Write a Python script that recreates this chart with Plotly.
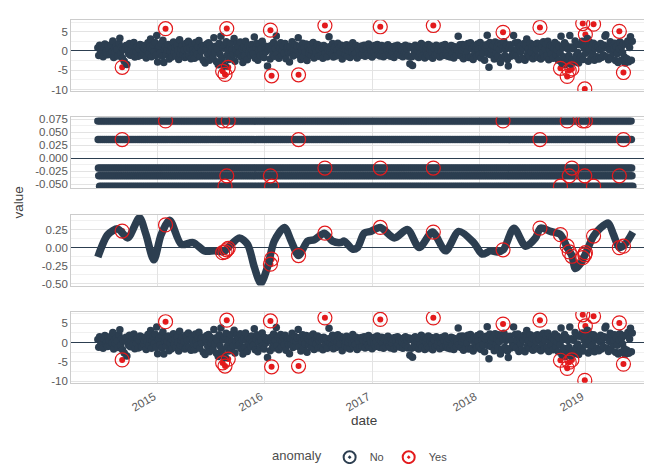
import pandas as pd
import plotly.graph_objects as go

DARK = "#2c3e50"
RED = "#e31a1c"
FONT = "Liberation Sans, Arial, sans-serif"

# ---------------- data ----------------
noise_start = "2014-06-10"   # one value every 3 days
observed_vals = [
    0.8, -1.2, 1.5, 0.3, -0.6, 1.1, -1.5, 0.9, 1.8, -0.4, 0.2, -1.0, 1.3, 0.5, -0.9, 1.6, -0.2, 2.6, -1.7, 0.7, -0.3, 1.2, 0.4, -1.3, 2.0, 3.3, -0.8, 1.0, -1.9, 0.4, -2.7, 0.6, 1.4, -3.5, 0.1, -0.7, 1.9, -1.1, 0.3, 1.5, -0.5, 2.2, -1.6, 0.8, -0.2, 1.1, -1.4, 0.6, 1.7, -0.9,
    -1.1, 1.4, -0.4, 0.6, 1.3, -1.8, 0.2, 2.1, -0.7, 0.9, 3.1, -1.5, 0.5, 1.6, -0.3, 2.2, -1.2, 4.0, -2.9, 0.8, 1.2, -0.6, 1.9, -1.4, 2.8, -3.0, 0.4, 1.1, -0.9, 0.3, 1.7, -2.1, -0.1, 1.0, -1.6, 0.7, 2.3, -0.5, 0.9, -1.3, 1.5, 0.1, -2.2, 2.9, -0.8, 0.6, 1.4, -1.0, 0.3, -1.7,
    1.9, -1.3, 0.5, 2.5, -1.2, 0.7, -2.0, 1.6, 0.3, -0.6, -1.9, 2.2, 0.2, -0.8, 1.1, 2.7, -1.5, 0.9, -0.1, 1.4, -2.5, 1.3, -3.1, 0.6, 1.8, -1.0, 2.1, -2.4, 1.4, -0.2, 0.8, -1.7, 3.4, -0.4, 1.2, -2.8, 0.5, -3.6, 2.0, -0.9, 3.8, -1.8, -3.3, 0.7, 1.5, -3.9, 2.4, -1.1, 0.3, -2.2,
    0.8, 2.0, -1.5, 0.4, -0.9, 3.2, -2.7, 0.3, 1.8, -0.9, 1.1, -0.4, 2.3, -1.6, 0.6, -3.0, 1.0, -1.2, 2.5, 0.5, -2.3, 1.4, -0.4, 0.9, -1.1, 1.7, 0.2, -0.7, 3.6, -1.9, 0.9, 2.0, -2.4, 0.1, 1.7, -1.2, 0.6, 2.5, -0.8, -1.7, 1.3, -0.2, 0.8, -3.9, 0.6, 1.2, -2.1, 0.4, 1.5, -1.0,
    2.2, -1.4, 0.6, 3.9, -0.8, 1.5, -1.9, 0.7, 2.1, -1.1, 0.2, 1.3, -0.6, 1.9, -2.0, 0.8, 1.1, -0.5, -2.9, 1.1, -0.5, 2.4, -1.3, 0.6, 1.6, -0.9, 0.3, 1.2, 3.4, -1.1, 1.3, -2.2, 0.4, 2.0, -1.6, 0.9, -0.3, 1.8, -2.5, 1.0, -0.7, 0.5, 1.7, -1.2, 0.2, 2.2, -1.8, 0.7, -0.4, 1.3,
    1.7, -1.4, 0.5, 1.3, -1.2, 0.8, -1.9, 1.4, 0.6, -0.6, 1.0, -1.5, 0.3, 3.7, -0.2, 1.2, -0.9, 1.9, -1.6, 0.6, 1.1, -1.3, 0.2, 2.0, -1.0, 0.9, -0.4, 1.5, -2.1, 0.7, 1.2, -0.8, 0.4, 1.6, -1.4, 0.1, 0.9, -1.7, 1.3, -0.3, 2.1, -1.1, 0.5, -0.6, 1.4, -1.8, 0.8, 0.2, -1.2, 1.1,
    1.3, -1.0, 0.6, 1.5, -1.4, 0.4, 1.1, -0.7, 1.8, -1.2, 0.8, 0.1, -1.6, 1.2, -0.5, 1.4, -1.0, 0.3, 1.7, -0.9, 1.0, -1.3, 0.5, 1.4, -0.3, -1.5, 0.9, 1.2, -1.1, 0.2, 1.6, -0.8, 0.5, -1.4, 1.1, -0.2, 0.8, -1.7, 1.3, 0.4, -0.9, 1.5, -0.6, 0.7, -1.2, 1.0, 0.1, -1.5, 1.2, -0.4,
    1.5, -0.8, 0.6, -1.4, 1.2, -3.3, 0.9, -1.5, -3.8, 1.1, -0.6, 1.5, -1.3, 0.4, 1.2, -1.7, 0.9, -0.6, 1.9, -1.3, 0.7, 1.4, -1.8, 0.3, 1.1, -1.0, 1.7, -1.4, 0.5, 1.3, -0.4, -1.9, 1.0, 0.6, -1.1, 1.5, -0.7, 0.3, 1.2, -1.6, 0.8, -0.2, 1.4, -1.2, 0.5, 1.7, -0.9, 0.2, -1.4, 1.0,
    0.9, -1.6, 1.4, -0.7, 1.2, -1.8, 0.5, 1.0, -1.1, 0.3, 3.8, -0.5, 1.6, -1.3, 0.2, 1.7, -2.0, 0.8, 1.5, -1.3, -0.2, 1.9, -1.7, 1.1, 2.1, -1.5, 0.6, -2.2, 1.3, -0.4, 0.9, -1.4, 1.8, 0.4, -1.0, 2.2, -1.8, 0.7, -0.6, 1.4, -2.4, 0.9, 1.6, 4.1, -0.8, -4.2, 2.2, -1.0, 0.5, 1.3,
    1.5, -2.1, 2.3, -0.6, 1.0, -1.4, 2.0, 0.3, -3.0, 1.7, -1.8, 0.8, 2.4, -1.2, 0.5, 1.6, -2.2, -3.9, 0.8, 1.6, -1.4, 0.4, -0.9, 4.0, -0.9, 2.1, -1.4, 0.5, 2.2, -2.3, 1.2, -0.3, 1.5, -1.9, 0.7, 1.9, -2.4, 1.4, 3.1, -0.8, 0.6, -1.5, 2.0, -0.2, 1.1, -2.0, 0.9, 1.7, -1.1, 0.3,
    2.0, -1.7, 0.9, 1.8, -2.1, 1.3, -0.5, 2.4, -1.6, 0.6, 1.8, -1.2, 2.5, -2.3, 0.4, 1.5, -0.8, 1.2, -1.9, 0.7, 2.2, -1.0, 0.3, 1.6, -2.4, 1.1, -0.6, 3.8, -3.2, 0.8, -1.5, 2.1, -3.6, 1.4, -2.8, 0.5, -1.2, 4.0, -3.4, 1.0, -2.2, 0.6, -2.9, 2.6, -1.3, 1.7, -0.4, -3.1, 1.6, -2.0,
    -1.4, 2.5, -2.2, 0.9, 1.6, -0.6, 1.7, 3.2, -2.7, 0.4, 2.2, -1.9, 1.3, -0.8, 2.0, -2.4, 0.7, 1.4, -1.5, 1.1, -2.1, 0.3, 1.9, -1.7, 0.9, -1.0, 1.5, 3.8, 4.2, -1.5, 1.1, -2.3, 0.3, 2.4, -1.7, 1.9, -0.5, 0.6, 2.0, -2.5, 1.2, -0.7, -3.0, 0.6, 2.3, -2.5, 1.2, -0.4, 1.8, -1.6,
    -3.1, 1.8, -2.0, 2.6, -2.8, 0.9, 3.7, -2.4, 2.5,
]

season_start = "2014-06-10"
season_end = "2019-06-10"
season_week = [0.072, 0.036, -0.019, -0.034, -0.054]

trend_dates = [
    "2014-06-10", "2014-07-14", "2014-08-17", "2014-09-20", "2014-10-30", "2014-11-21", "2014-12-18",
    "2015-01-12", "2015-02-10", "2015-03-22", "2015-05-01", "2015-06-09", "2015-07-13", "2015-08-16",
    "2015-09-02", "2015-10-06", "2015-11-03", "2015-11-26", "2015-12-18", "2016-01-10", "2016-02-02",
    "2016-03-08", "2016-03-31", "2016-04-25", "2016-05-26", "2016-06-18", "2016-07-22", "2016-08-19",
    "2016-09-16", "2016-09-28", "2016-10-26", "2016-11-12", "2016-12-05", "2016-12-28", "2017-01-29",
    "2017-03-18", "2017-05-02", "2017-06-11", "2017-07-26", "2017-09-09", "2017-10-24", "2017-12-14",
    "2018-01-12", "2018-02-09", "2018-03-04", "2018-03-25", "2018-04-30", "2018-06-09", "2018-07-13",
    "2018-07-30", "2018-09-02", "2018-10-06", "2018-10-29", "2018-11-14", "2018-11-26", "2018-12-13",
    "2018-12-30", "2019-01-27", "2019-02-19", "2019-03-18", "2019-04-05", "2019-04-25", "2019-05-14",
    "2019-06-10",
]
trend_vals = [
    -0.13, 0.18, 0.26, 0.135, 0.415, 0.185, -0.17,
    0.18, 0.38, 0.045, 0.07, -0.045, -0.045, -0.05,
    0.02, 0.135, 0.045, -0.27, -0.495, -0.27, 0.09,
    0.28, 0.09, -0.11, 0.09, 0.11, 0.20, 0.09,
    0.07, 0.09, -0.02, 0.0, 0.20, 0.225, 0.28,
    0.135, 0.25, 0.0, 0.215, -0.045, 0.225, 0.07,
    -0.09, -0.045, -0.06, -0.03, 0.27, 0.02, 0.135,
    0.27, 0.225, 0.18, 0.0, -0.11, -0.29, -0.225,
    -0.09, 0.16, 0.27, 0.34, 0.18, 0.0, 0.045,
    0.215,
]

anom_dates = [
    "2014-09-01", "2015-01-27", "2015-08-10", "2015-08-18", "2015-08-24", "2015-08-29",
    "2016-01-20", "2016-01-24", "2016-04-25", "2016-07-24", "2017-01-29", "2017-07-29",
    "2018-03-24", "2018-07-28", "2018-10-06", "2018-10-29", "2018-11-05", "2018-11-14",
    "2018-12-21", "2018-12-28", "2018-12-30", "2019-01-27", "2019-04-25", "2019-05-09",
]
anom_observed = [-4.25, 5.77, -5.3, -6.1, 5.8, -4.25, 5.4, -6.45, -6.2, 6.6, 6.27, 6.6,
                 4.83, 6.1, -4.5, -6.6, -5.1, -4.66, 7.1, -9.85, 4.25, 6.95, 5.1, -5.6]
anom_season = [0.036, 0.072, 0.072, -0.054, -0.034, 0.072, -0.034, -0.054, 0.036, -0.019, -0.019, -0.019,
               0.072, 0.036, -0.054, 0.072, -0.034, -0.019, 0.072, -0.034, 0.072, -0.054, -0.034, 0.036]
anom_trend = [0.23, 0.315, -0.07, -0.06, -0.03, -0.01, -0.23, -0.16, -0.11, 0.20, 0.28, 0.215,
              -0.03, 0.27, 0.18, 0.02, -0.06, -0.12, -0.14, -0.10, -0.07, 0.16, 0.0, 0.02]
anom_remainder = [-4.5, 5.4, -5.3, -6.1, 5.8, -4.3, 5.6, -6.3, -6.1, 6.4, 6.0, 6.4,
                  4.8, 5.8, -4.6, -6.7, -5.1, -4.5, 7.2, -9.8, 4.3, 6.8, 5.1, -5.6]

# ---------------- derived x values ----------------
noise_dates = pd.date_range(noise_start, periods=len(observed_vals), freq="3D")
season_dates = pd.bdate_range(season_start, season_end)
season_vals = [season_week[i % len(season_week)] for i in range(len(season_dates))]

# ---------------- figure ----------------
W, H = 652, 464
tops = [8.5, 108.5, 208.5, 308.5]
ph = 73
x0, x1 = 63.3 / W, 651.6 / W
xrange_ = ["2014-03-11", "2019-09-06"]

fig = go.Figure()

panels = [
    (noise_dates, observed_vals, anom_observed, "markers"),
    (season_dates, season_vals, anom_season, "markers"),
    (trend_dates, trend_vals, anom_trend, "lines"),
    (noise_dates, observed_vals, anom_remainder, "markers"),
]

for k, (xd, yd, ya, mode) in enumerate(panels, start=1):
    xa, yax = f"x{k}", f"y{k}"
    fig.add_trace(go.Scatter(x=anom_dates, y=ya, mode="markers", xaxis=xa, yaxis=yax,
                             marker=dict(color=RED, size=6), showlegend=False, hoverinfo="skip"))
    if mode == "lines":
        fig.add_trace(go.Scatter(x=xd, y=yd, mode="lines", xaxis=xa, yaxis=yax,
                                 line=dict(color=DARK, width=7.5, shape="spline", smoothing=0.8),
                                 showlegend=False, hoverinfo="skip"))
    else:
        fig.add_trace(go.Scatter(x=xd, y=yd, mode="markers", xaxis=xa, yaxis=yax,
                                 marker=dict(color=DARK, size=7.5), showlegend=False, hoverinfo="skip"))
    fig.add_trace(go.Scatter(x=anom_dates, y=ya, mode="markers", xaxis=xa, yaxis=yax,
                             marker=dict(symbol="circle-open", color=RED, size=14,
                                         line=dict(width=1.2, color=RED)),
                             showlegend=False, hoverinfo="skip"))

for name, col in [("No", DARK), ("Yes", RED)]:
    fig.add_trace(go.Scatter(x=[None], y=[None], mode="markers", name=name, xaxis="x4", yaxis="y4",
                             marker=dict(symbol="circle-open-dot", color=col, size=12,
                                         line=dict(width=1.5, color=col))))

yspecs = [
    dict(range=[-10.45, 7.96], tickvals=[-10, -5, 0, 5], ticktext=["-10", "-5", "0", "5"], minor=2.5),
    dict(range=[-0.0583, 0.0787], tickvals=[-0.05, -0.025, 0, 0.025, 0.05, 0.075],
         ticktext=["-0.050", "-0.025", "0.000", "0.025", "0.050", "0.075"], minor=0.0125),
    dict(range=[-0.527, 0.457], tickvals=[-0.5, -0.25, 0, 0.25],
         ticktext=["-0.50", "-0.25", "0.00", "0.25"], minor=0.125),
    dict(range=[-10.45, 7.96], tickvals=[-10, -5, 0, 5], ticktext=["-10", "-5", "0", "5"], minor=2.5),
]

layout = dict(
    width=W, height=H,
    margin=dict(l=0, r=0, t=0, b=0),
    paper_bgcolor="white", plot_bgcolor="white",
    font=dict(family=FONT, color="#4d4d4d", size=11),
    showlegend=True,
    legend=dict(orientation="h", x=0.543, xanchor="center", y=1 - 458 / H, yanchor="middle",
                title=dict(text="anomaly", font=dict(size=13, color="#4d4d4d")),
                font=dict(size=11, color="#4d4d4d"), itemsizing="constant", itemwidth=30,
                tracegroupgap=0, bgcolor="rgba(0,0,0,0)"),
)

for k in range(1, 5):
    top = tops[k - 1]
    spec = yspecs[k - 1]
    layout[f"xaxis{k}"] = dict(
        domain=[x0, x1], anchor=f"y{k}", range=xrange_, type="date",
        showgrid=True, gridcolor="#e3e3e3", gridwidth=1,
        tickvals=["2015-01-01", "2016-01-01", "2017-01-01", "2018-01-01", "2019-01-01"],
        ticktext=["2015", "2016", "2017", "2018", "2019"],
        showticklabels=(k == 4), tickangle=-30, ticks="",
        tickfont=dict(size=11.5, color="#595959"), ticklabelshift=-4, ticklabelstandoff=2,
        showline=True, mirror=True, linecolor="#cccccc", linewidth=1,
        zeroline=False, fixedrange=True,
    )
    if k != 4:
        layout[f"xaxis{k}"]["matches"] = "x4"
    layout[f"yaxis{k}"] = dict(
        domain=[1 - (top + ph) / H, 1 - top / H], anchor=f"x{k}",
        range=spec["range"], tickvals=spec["tickvals"], ticktext=spec["ticktext"],
        showgrid=True, gridcolor="#e3e3e3", gridwidth=1,
        minor=dict(dtick=spec["minor"], tick0=0, showgrid=True, gridcolor="#f0f0f0", gridwidth=1),
        zeroline=True, zerolinecolor=DARK, zerolinewidth=1.2,
        ticks="", tickfont=dict(size=11.5, color="#595959"),
        showline=True, mirror=True, linecolor="#cccccc", linewidth=1,
        fixedrange=True,
    )

layout["annotations"] = [
    dict(text="value", x=11 / W, y=1 - 196 / H, xref="paper", yref="paper", textangle=-90,
         showarrow=False, font=dict(size=13.5, color="#404040"), xanchor="center", yanchor="middle"),
    dict(text="date", x=357 / W, y=1 - 420 / H, xref="paper", yref="paper",
         showarrow=False, font=dict(size=13.5, color="#404040"), xanchor="center", yanchor="middle"),
]

fig.update_layout(**layout)
fig.write_html("out.html")
